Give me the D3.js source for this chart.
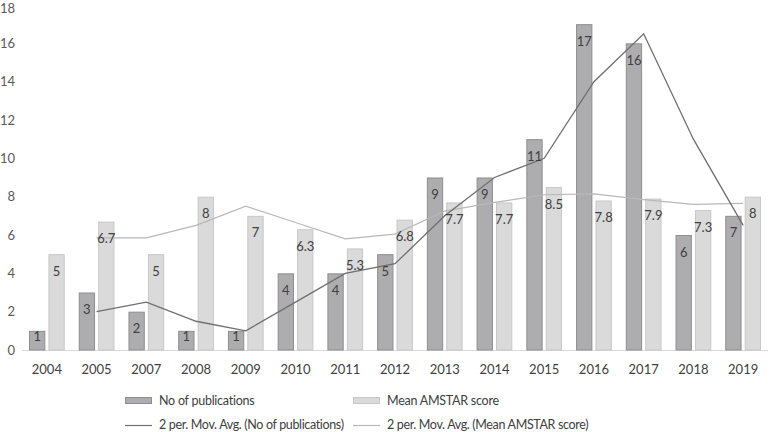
<!DOCTYPE html>
<html><head><meta charset="utf-8">
<script src="https://cdn.jsdelivr.net/npm/d3@7"></script>
<style>body{margin:0;background:#fff}svg{display:block}text{font-family:Lato,"Open Sans",sans-serif}</style>
</head><body><svg id="c" width="772" height="432"></svg>
<script>
const years = ["2004","2005","2007","2008","2009","2010","2011","2012","2013","2014","2015","2016","2017","2018","2019"];
const publications = [1,3,2,1,1,4,4,5,9,9,11,17,16,6,7];
const amstar = [5,6.7,5,8,7,6.3,5.3,6.8,7.7,7.7,8.5,7.8,7.9,7.3,8];
const maPublications = [null,2,2.5,1.5,1,2.5,4,4.5,7,9,10,14,16.5,11,6.5];
const maAmstar = [null,5.85,5.85,6.5,7.5,6.65,5.8,6.05,7.25,7.7,8.1,8.15,7.85,7.6,7.65];
const yTicks = [0,2,4,6,8,10,12,14,16,18];
const seriesNames = ["No of publications","Mean AMSTAR score"];
const lineNames = ["2 per. Mov. Avg. (No of publications)","2 per. Mov. Avg. (Mean AMSTAR score)"];

const svg = d3.select("#c");
const x = d3.scaleBand().domain(years).range([22,768]).padding(0);
const y = d3.scaleLinear().domain([0,18]).range([350,5]);
const x1 = d3.scaleBand().domain([0,1]).range([7, x.bandwidth()-7]).paddingInner(0.16);

const darkFill="#adadaf", darkStroke="#8e8e8e", lightFill="#dadada", lightStroke="#c8c8c8";
const textCol="#404040";

// y axis labels
svg.append("g").selectAll("text").data(yTicks).join("text")
  .attr("x",15).attr("y",d=>Math.max(y(d),8)).attr("dy","0.35em").attr("text-anchor","end")
  .attr("font-size",13).attr("fill","#595959").text(d=>d);

// x axis line
svg.append("line").attr("x1",22).attr("x2",768).attr("y1",y(0)+0.5).attr("y2",y(0)+0.5)
  .attr("stroke","#d9d9d9").attr("stroke-width",1);
svg.append("g").selectAll("text").data(years).join("text")
  .attr("x",d=>x(d)+x.bandwidth()/2).attr("y",369).attr("dy","0.35em").attr("text-anchor","middle")
  .attr("font-size",13).attr("fill","#404040").text(d=>d);

const series = [publications, amstar];
const fills=[darkFill,lightFill], strokes=[darkStroke,lightStroke];
series.forEach((vals,si)=>{
  const g = svg.append("g");
  g.selectAll("rect").data(vals).join("rect")
    .attr("x",(d,i)=>x(years[i])+x1(si)+0.5).attr("width",x1.bandwidth()-1)
    .attr("y",d=>y(d)+0.5).attr("height",d=>y(0)-y(d)-0.5)
    .attr("fill",fills[si]).attr("stroke",strokes[si]).attr("stroke-width",1);
});

// moving average lines
const line = d3.line().defined(d=>d.v!=null).x(d=>x(d.k)+x.bandwidth()/2).y(d=>y(d.v));
svg.append("path").datum(years.map((k,i)=>({k,v:maAmstar[i]})))
  .attr("d",line).attr("fill","none").attr("stroke","#b8b8b8").attr("stroke-width",1.2);
svg.append("path").datum(years.map((k,i)=>({k,v:maPublications[i]})))
  .attr("d",line).attr("fill","none").attr("stroke","#6f6f6f").attr("stroke-width",1.3);

// data labels
series.forEach((vals,si)=>{
  svg.append("g").selectAll("text").data(vals).join("text")
    .attr("x",(d,i)=>x(years[i])+x1(si)+x1.bandwidth()/2).attr("y",d=>Math.min(y(d)+17, y(0)-14))
    .attr("dy","0.35em").attr("text-anchor","middle").attr("font-size",13).attr("fill",textCol)
    .text(d=>d);
});

// legend
const leg = svg.append("g");
const lx=[125,353];
seriesNames.forEach((n,i)=>{
  leg.append("rect").attr("x",lx[i]+0.5).attr("y",397.5).attr("width",26).attr("height",6)
    .attr("fill",fills[i]).attr("stroke",strokes[i]);
  leg.append("text").attr("x",lx[i]+34).attr("y",400.5).attr("dy","0.35em").attr("font-size",12.5)
    .attr("letter-spacing",-0.25).attr("fill",textCol).text(n);
});
const lstrokes=["#6f6f6f","#b8b8b8"];
lineNames.forEach((n,i)=>{
  leg.append("line").attr("x1",lx[i]).attr("x2",lx[i]+27).attr("y1",425.5).attr("y2",425.5)
    .attr("stroke",lstrokes[i]).attr("stroke-width",1.2);
  leg.append("text").attr("x",lx[i]+34).attr("y",425).attr("dy","0.35em").attr("font-size",12.5)
    .attr("letter-spacing",-0.35).attr("fill",textCol).text(n);
});
</script></body></html>
